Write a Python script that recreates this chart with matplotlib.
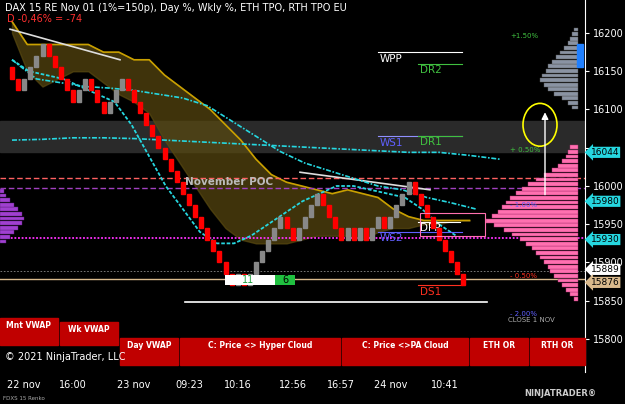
import matplotlib
matplotlib.use("Agg")
import matplotlib.pyplot as plt
from matplotlib.patches import Rectangle, Ellipse

# ---- data ----
bricks = [16140,16125,16140,16155,16170,16185,16170,16155,16140,16125,16110,16125,16140,16125,16110,
          16095,16110,16125,16140,16125,16110,16095,16080,16065,16050,16035,16020,16005,15990,15975,15960,
          15945,15930,15915,15900,15885,15870,15885,15870,15885,15900,15915,15930,15945,15960,15945,15930,
          15945,15960,15975,15990,15975,15960,15945,15930,15945,15930,15945,15930,15945,15960,15945,15960,
          15975,15990,16005,15990,15975,15960,15945,15930,15915,15900,15885,15870]
brick_size = 15
cloud_top = [16215,16185,16185,16185,16185,16185,16175,16175,16165,16165,16145,16130,16115,16100,16080,16060,16035,
             16015,16005,16000,15995,15990,15995,15990,15985,15970,15960,15955,15955,15955,15955]
cloud_bot = [16200,16150,16130,16140,16150,16150,16135,16120,16110,16095,16060,16030,16000,15970,15945,15930,15925,
             15925,15925,15930,15935,15935,15935,15930,15940,15945,15945,15950,15950,15955,15955]
vwap_fast = [16165,16150,16145,16140,16130,16120,16110,16080,16040,16000,15970,15940,15925,15925,15935,15950,15965,
             15980,15990,16000,16000,15995,15990,15985,15970,15950,15935]
vwap_slow = [16165,16140,16135,16130,16128,16125,16120,16115,16105,16085,16065,16045,16030,16020,16010,16000,15995,
             15985,15978,15970]
vwap_week = [16060,16061,16063,16063,16062,16060,16058,16056,16054,16052,16050,16048,16046,16044,16044,16040,16035]
prof_prices = list(range(15850, 16050, 6))
prof_width = [4,8,12,16,20,24,28,30,34,38,42,46,52,58,66,74,84,92,86,80,76,72,68,62,56,50,42,34,26,20,16,12,10,8]
gray_prices = list(range(16100, 16205, 6))
gray_width = [6,10,16,24,30,34,38,36,32,30,26,22,18,14,10,8,6,4]
yticks = [16200,16150,16100,16050,16000,15950,15900,15850,15800]
ytick_labels = ["16200","16150","16100","","16000","15950","15900","15850","15800"]
xtick_labels = ["22 nov","16:00","23 nov","09:23","10:16","12:56","16:57","24 nov","10:41"]
xtick_pos = [2,10,20,29,37,46,54,62,71]
price_tags = [(16044,"16044","#26d7e0","black"),(15980,"15980","#26d7e0","black"),(15930,"15930","#26d7e0","black"),
              (15891,"15889","white","black"),(15874,"15876","#d9b98c","black")]
buttons = [("Mnt VWAP",0,318,58,345),("Wk VWAP",60,322,118,345),("Day VWAP",120,338,178,365),
           ("C: Price <> Hyper Cloud",180,338,340,365),("C: Price <>PA Cloud",342,338,468,365),
           ("ETH OR",470,338,528,365),("RTH OR",530,338,585,365)]

W, H = 625, 404
fig = plt.figure(figsize=(6.25, 4.04), dpi=100, facecolor="black")
ax = fig.add_axes([0, 32/H, 585/W, 1-32/H])
ax.set_facecolor("black")
ymin = 16200 - 339/0.765
ymax = 16200 + 33/0.765
ax.set_ylim(ymin, ymax)
xs = lambda i: 12 + 6.1*i
ax.set_xlim(0, 585)

ax.axhspan(16045, 16085, color="#2a2a2a", zorder=0)
cx = [xs(i*2.5) for i in range(len(cloud_top))]
ax.fill_between(cx, cloud_bot, cloud_top, color="#5a4a10", alpha=0.7, zorder=1)
ax.plot(cx, cloud_top, color="#c9a000", lw=1.2, zorder=2)
ax.plot([xs(i*2.8) for i in range(len(vwap_fast))], vwap_fast, color="#26d7e0", lw=1.3, ls=(0,(2,1)), zorder=3)
ax.plot([xs(i*4) for i in range(len(vwap_slow))], vwap_slow, color="#26d7e0", lw=1.2, ls=(0,(3,1,1,1)), zorder=3)
ax.plot([xs(i*5) for i in range(len(vwap_week))], vwap_week, color="#26d7e0", lw=1.2, ls=(0,(3,1,1,1)), zorder=3)

ax.axhline(16010, color="#ff6060", lw=1, ls=(0,(4,2)), zorder=2)
ax.axhline(15997, color="#a040c0", lw=1, ls=(0,(4,2)), zorder=2)
ax.axhline(15932, color="#ff30ff", lw=1.3, ls=(0,(1,1)), zorder=2)
ax.axhline(15889, color="#888888", lw=0.6, ls=(0,(2,2)), zorder=2)
ax.axhline(15878, color="#d9b98c", lw=1, zorder=2)
ax.plot([185, 487], [15848, 15848], color="white", lw=1.2)
ax.plot([10, 120], [16205, 16165], color="#dddddd", lw=1.2)
ax.plot([300, 430], [16018, 15995], color="#dddddd", lw=1.2)
for y0, x0, x1, col, lab, lc in [(16175,378,462,"white","WPP","white"),(16160,418,462,"#40c040","DR2","#40c040"),
                                   (16065,378,462,"#9090ff","WS1","#6060ff"),(16066,418,462,"#40c040","DR1","#40c040"),
                                   (15953,418,460,"white","DPP","white"),(15940,378,462,"#6060ff","WS2","#6060ff"),
                                   (15870,418,462,"#ff3020","DS1","#ff3020")]:
    ax.plot([x0, x1], [y0, y0], color=col, lw=0.8, zorder=4)
    ax.text(x0+2, y0-2, lab, color=lc, fontsize=7.5, va="top", zorder=4)
ax.text(185, 15997+4, "November POC", color="#bbbbbb", fontsize=7.5, fontweight="bold", zorder=4)

prev = 16155
for i, c in enumerate(bricks):
    up = c > prev
    bot = c - brick_size if up else c
    col = "#888888" if up else "#ff0000"
    ax.add_patch(Rectangle((xs(i)-2, bot), 4, brick_size, color=col, zorder=5))
    prev = c

for p, w in zip(prof_prices, prof_width):
    ax.add_patch(Rectangle((578-w, p), w, 5, facecolor="#ff70b0", edgecolor="#aa3070", lw=0.3, zorder=3))
for p, w in zip(gray_prices, gray_width):
    ax.add_patch(Rectangle((578-w, p), w, 5, facecolor="#8a93a3", edgecolor="#555", lw=0.3, zorder=3))
ax.add_patch(Rectangle((577, 16155), 6, 30, color="#2080ff", zorder=4))
for p, w in zip(range(15925, 15995, 6), [6,10,14,18,22,24,22,18,14,10,6,4]):
    ax.add_patch(Rectangle((0, p), w, 5, facecolor="#a040d0", edgecolor="#602080", lw=0.3, zorder=3))
ax.add_patch(Rectangle((225, 15870), 70, 14, facecolor="white", zorder=6))
ax.add_patch(Rectangle((275, 15870), 20, 14, facecolor="#20c040", zorder=6))
ax.text(248, 15877, "11", color="#20a040", fontsize=7, ha="center", va="center", zorder=7)
ax.text(285, 15877, "6", color="black", fontsize=7, ha="center", va="center", zorder=7)
ax.add_patch(Rectangle((420, 15935), 65, 30, fill=False, edgecolor="#ff70b0", lw=0.8, zorder=6))
ax.add_patch(Ellipse((540, 16080), 34, 56, fill=False, edgecolor="yellow", lw=1.2, zorder=6))
ax.annotate("", xy=(545, 16100), xytext=(545, 15985),
            arrowprops=dict(arrowstyle="-|>", color="white", lw=1), zorder=6)
for p, t, c in [(16193,"+1.50%","#40c040"),(16045,"+ 0.50%","#40c040"),(15972,"- 1.00%","#6060ff"),
                (15880,"- 0.50%","#ff3020"),(15830,"- 2.00%","#6060ff")]:
    ax.text(510, p, t, color=c, fontsize=5, zorder=6)
ax.text(508, 15822, "CLOSE 1 NOV", color="#aaaaaa", fontsize=5, zorder=6)

ax.set_xticks([xs(p) for p in xtick_pos])
ax.set_xticklabels(xtick_labels, color="white", fontsize=7)
ax.tick_params(axis="x", length=0, pad=6)
ax.yaxis.tick_right()
ax.set_yticks(yticks)
ax.set_yticklabels(ytick_labels, color="white", fontsize=7)
ax.tick_params(axis="y", colors="white", length=3, pad=3)
for s in ax.spines.values():
    s.set_visible(False)
ax.spines["right"].set_visible(True)
ax.spines["right"].set_color("white")
for p, t, fc, tc in price_tags:
    ax.annotate(t, xy=(1.0, p), xycoords=("axes fraction", "data"), xytext=(4, 0), textcoords="offset points",
                color=tc, fontsize=6.5, va="center", annotation_clip=False,
                bbox=dict(boxstyle="larrow,pad=0.12", fc=fc, ec="none"), zorder=10)

ov = fig.add_axes([0, 0, 1, 1], facecolor="none")
ov.set_xlim(0, W); ov.set_ylim(H, 0); ov.axis("off")
for lab, x0, y0, x1, y1 in buttons:
    ov.add_patch(Rectangle((x0, y0), x1-x0, y1-y0, color="#c00000"))
    ov.text((x0+x1)/2, y0+8, lab, color="white", fontsize=5.5, fontweight="bold", ha="center", va="center")
ov.text(5, 357, "© 2021 NinjaTrader, LLC", color="white", fontsize=7, va="center")
ov.text(5, 8, "DAX 15 RE Nov 01 (1%=150p), Day %, Wkly %, ETH TPO, RTH TPO EU", color="white", fontsize=7, va="center")
ov.text(7, 19, "D -0,46% = -74", color="#ff3030", fontsize=7, va="center")
ov.text(3, 398, "FDXS 15 Renko", color="#aaaaaa", fontsize=4, va="center")
ov.text(560, 393, "NINJATRADER®", color="#cccccc", fontsize=6, fontweight="bold", ha="center", va="center")
fig.savefig("out.png", dpi=100, facecolor="black")
